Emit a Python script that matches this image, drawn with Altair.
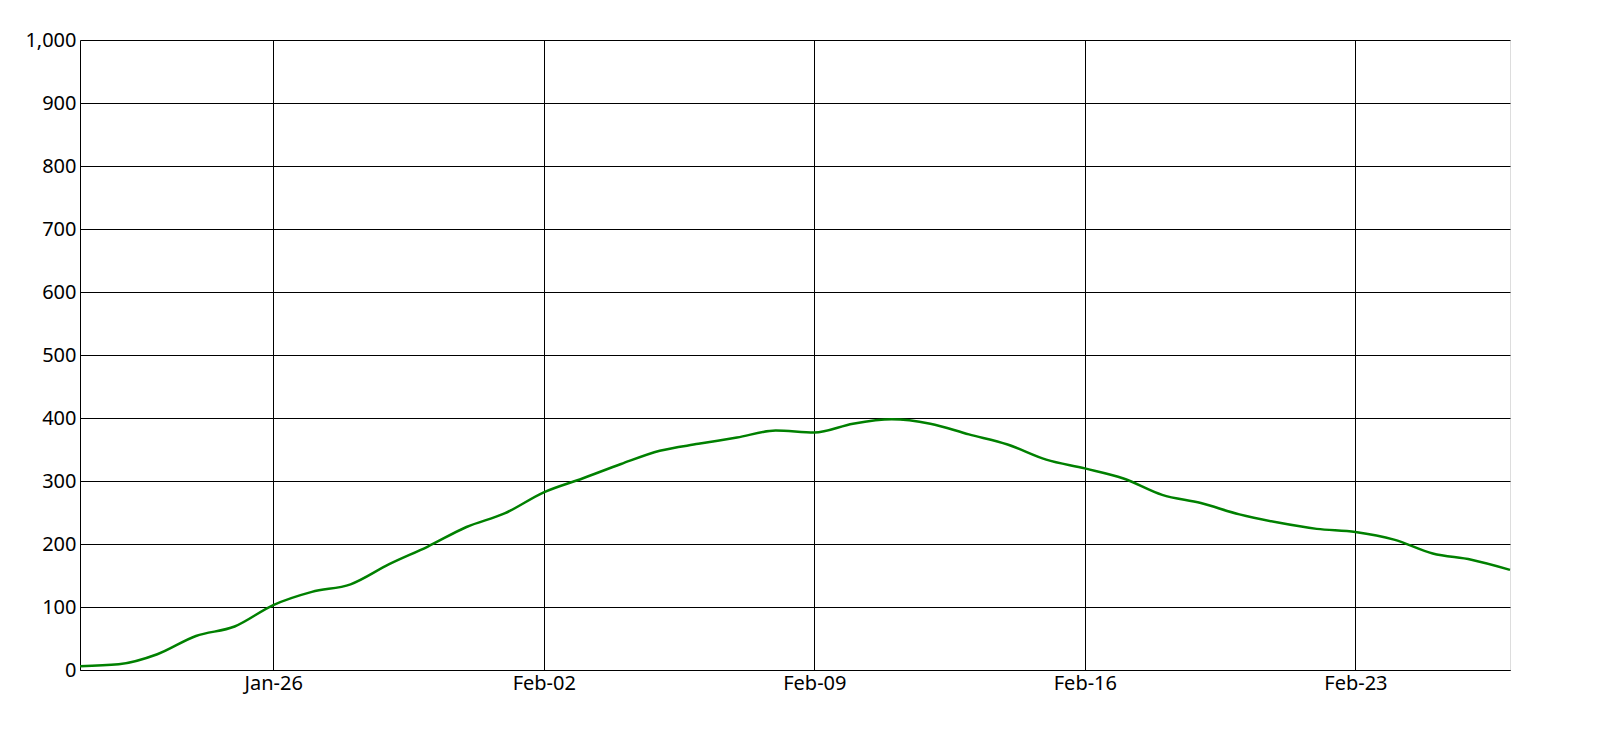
import altair as alt
import pandas as pd

dates = pd.date_range("2020-01-21", "2020-02-27", freq="D").strftime("%Y-%m-%d").tolist()
values = [6, 9, 25, 54, 69, 103, 124, 136, 168, 196, 227, 249, 282, 304, 327, 348,
          359, 369, 380, 377, 391, 398, 391, 374, 358, 334, 320, 304, 278, 265, 247,
          234, 224, 219, 207, 185, 175, 159]
tick_dates = [(1, 26), (2, 2), (2, 9), (2, 16), (2, 23)]
y_ticks = list(range(0, 1001, 100))

df = pd.DataFrame({"date": dates, "value": values})

font = "Noto Sans"

chart = alt.Chart(df).mark_line(color="#008000", strokeWidth=2.5, interpolate="monotone").encode(
    x=alt.X(
        "date:T",
        scale=alt.Scale(
            type="utc",
            domain=[alt.DateTime(year=2020, month=1, date=21, utc=True),
                    alt.DateTime(year=2020, month=2, date=27, utc=True)],
        ),
        axis=alt.Axis(
            values=[alt.DateTime(year=2020, month=m, date=d, utc=True) for m, d in tick_dates],
            format="%b-%d", title=None, ticks=False, labelPadding=3,
            grid=True, gridColor="black", gridOpacity=1, gridWidth=1,
            domainColor="black", labelColor="black", labelFont=font, labelFontSize=20,
        ),
    ),
    y=alt.Y(
        "value:Q",
        scale=alt.Scale(domain=[0, 1000], nice=False),
        axis=alt.Axis(
            values=y_ticks, format=",d", title=None, ticks=False, labelPadding=4,
            grid=True, gridColor="black", gridOpacity=1, gridWidth=1,
            domainColor="black", labelColor="black", labelFont=font, labelFontSize=20,
        ),
    ),
).properties(
    width=1430, height=630,
    autosize=alt.AutoSizeParams(type="none"),
    padding={"left": 72, "top": 32, "right": 80, "bottom": 50},
).configure_view(stroke="black", strokeWidth=1).configure(background="white")

chart.save("out.html", embed_options={"renderer": "svg", "actions": False})
